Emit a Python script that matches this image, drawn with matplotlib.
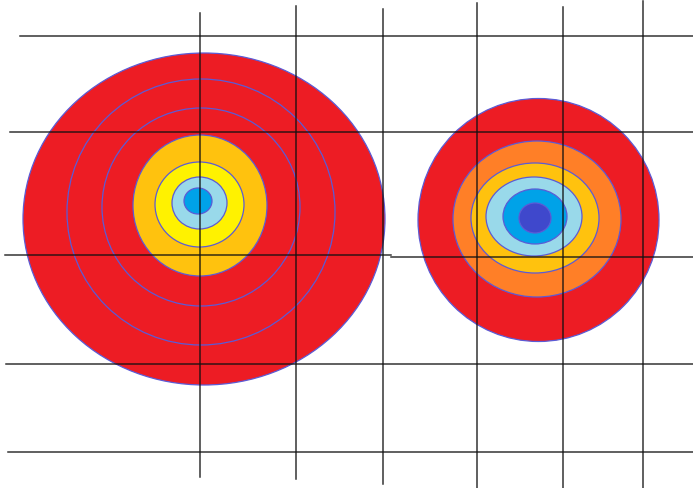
"""Two hand-drawn concentric ellipse targets over a rough grid."""

import matplotlib
matplotlib.use("Agg")
import matplotlib.pyplot as plt
from matplotlib.patches import Ellipse

W, H = 693, 488

# left target: (cx, cy, width, height, fill)  -- fill None = outline only
left_cx = [204, 201, 201, 200, 199.5, 199.5, 198]
left_cy = [219, 212, 207, 205.5, 204.5, 203, 201]
left_rx = [181, 134, 99, 67, 44.5, 27.5, 14]
left_ry = [166, 133, 99, 70.5, 42.5, 26, 13]
left_fill = ["#ED1C24", None, None, "#FFC20E", "#FFF200", "#99D9EA", "#00A2E8"]

# right target
right_cx = [538.5, 537, 535, 534, 535, 535]
right_cy = [220, 219, 218, 216.5, 216.5, 218]
right_rx = [120.5, 84, 64, 48, 32, 16]
right_ry = [121.5, 78, 55, 39.5, 27.5, 15]
right_fill = ["#ED1C24", "#FF7F27", "#FFC20E", "#99D9EA", "#00A2E8", "#3F48CC"]

# grid: horizontal rows (y, x_start, x_end), vertical columns (x, top, bottom)
h_y = [36, 132, 255, 256.5, 364, 452]
h_x0 = [20, 10, 5, 391, 6, 8]
h_x1 = [693, 693, 391, 693, 693, 693]
v_x = [200, 296, 383, 477, 563, 643]
v_top = [13, 6, 9, 3, 7, 1]
v_bot = [477, 479, 484, 488, 488, 488]

fig = plt.figure(figsize=(W / 100, H / 100), dpi=100)
ax = fig.add_axes([0, 0, 1, 1])
ax.set_xlim(0, W)
ax.set_ylim(H, 0)
ax.axis("off")


def target(cxs, cys, rxs, rys, fills):
    for cx, cy, rx, ry, fc in zip(cxs, cys, rxs, rys, fills):
        ax.add_patch(Ellipse((cx, cy), 2 * rx, 2 * ry,
                             facecolor=fc if fc else "none",
                             edgecolor="#5B5BD6", lw=0.9))


target(left_cx, left_cy, left_rx, left_ry, left_fill)
target(right_cx, right_cy, right_rx, right_ry, right_fill)

for y, x0, x1 in zip(h_y, h_x0, h_x1):
    ax.plot([x0, x1], [y, y], color="#111111", lw=1.1, alpha=0.85)
for x, t, b in zip(v_x, v_top, v_bot):
    ax.plot([x, x], [t, b], color="#111111", lw=1.1, alpha=0.85)

fig.savefig("out.png", dpi=100)
plt.close(fig)
